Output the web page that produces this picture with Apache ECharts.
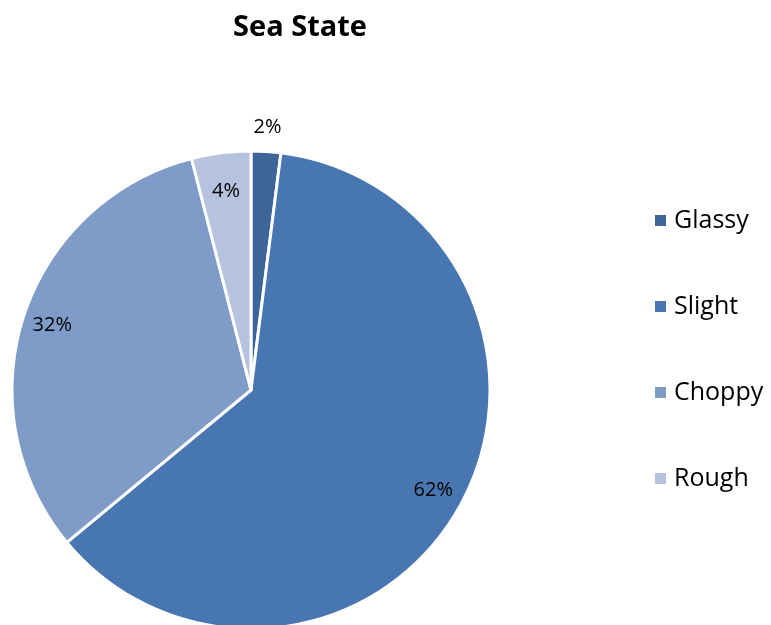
<!DOCTYPE html>
<html>
<head>
<meta charset="utf-8">
<script src="https://cdn.jsdelivr.net/npm/echarts@6/dist/echarts.min.js"></script>
<style>
html,body{margin:0;padding:0;background:#fff;}
#chart{width:771px;height:625px;}
</style>
</head>
<body>
<div id="chart"></div>
<script>
const titleText = 'Sea State';
const categories = ['Glassy', 'Slight', 'Choppy', 'Rough'];
const values = [2, 62, 32, 4];
const colors = ['#3d6597', '#4876b0', '#7f9cc8', '#b5c3df'];

const FONT = '"Open Sans", "Liberation Sans", sans-serif';
const center = [251, 390];
const R = 239;
// radial distance of each percentage label from the pie centre
const labelDist = [260, 205, 206, 197];

const baseData = categories.map((c, i) => ({ name: c, value: values[i] }));

function labelSeries(idx) {
  return {
    type: 'pie',
    center: center,
    radius: [0, 2 * labelDist[idx]],
    startAngle: 90,
    clockwise: true,
    silent: true,
    avoidLabelOverlap: false,
    percentPrecision: 0,
    itemStyle: { color: 'rgba(0,0,0,0)', borderWidth: 0 },
    emphasis: { disabled: true },
    labelLine: { show: false },
    label: {
      show: true,
      position: 'inside',
      formatter: '{d}%',
      fontFamily: FONT,
      fontSize: 20,
      color: '#000'
    },
    data: baseData.map((d, i) => ({ ...d, label: { show: i === idx } }))
  };
}

const chart = echarts.init(document.getElementById('chart'), null, { renderer: 'canvas' });
chart.setOption({
  animation: false,
  backgroundColor: '#ffffff',
  title: {
    text: titleText,
    left: 295,
    textAlign: 'center',
    top: 8,
    textStyle: { fontFamily: FONT, fontWeight: 'bold', fontSize: 29, color: '#000' }
  },
  legend: {
    orient: 'vertical',
    left: 648,
    top: 203,
    itemWidth: 13,
    itemHeight: 13,
    itemGap: 61,
    icon: 'rect',
    selectedMode: false,
    data: categories.map((c, i) => ({ name: c, itemStyle: { color: colors[i] } })),
    textStyle: { fontFamily: FONT, fontSize: 25, color: '#000', padding: [0, 0, 0, 2] }
  },
  series: [
    {
      type: 'pie',
      center: center,
      radius: [0, R],
      startAngle: 90,
      clockwise: true,
      avoidLabelOverlap: false,
      label: { show: false },
      labelLine: { show: false },
      emphasis: { disabled: true },
      itemStyle: { borderColor: '#ffffff', borderWidth: 3 },
      data: baseData.map((d, i) => ({ ...d, itemStyle: { color: colors[i] } }))
    },
    labelSeries(0),
    labelSeries(1),
    labelSeries(2),
    labelSeries(3)
  ]
});
</script>
</body>
</html>
